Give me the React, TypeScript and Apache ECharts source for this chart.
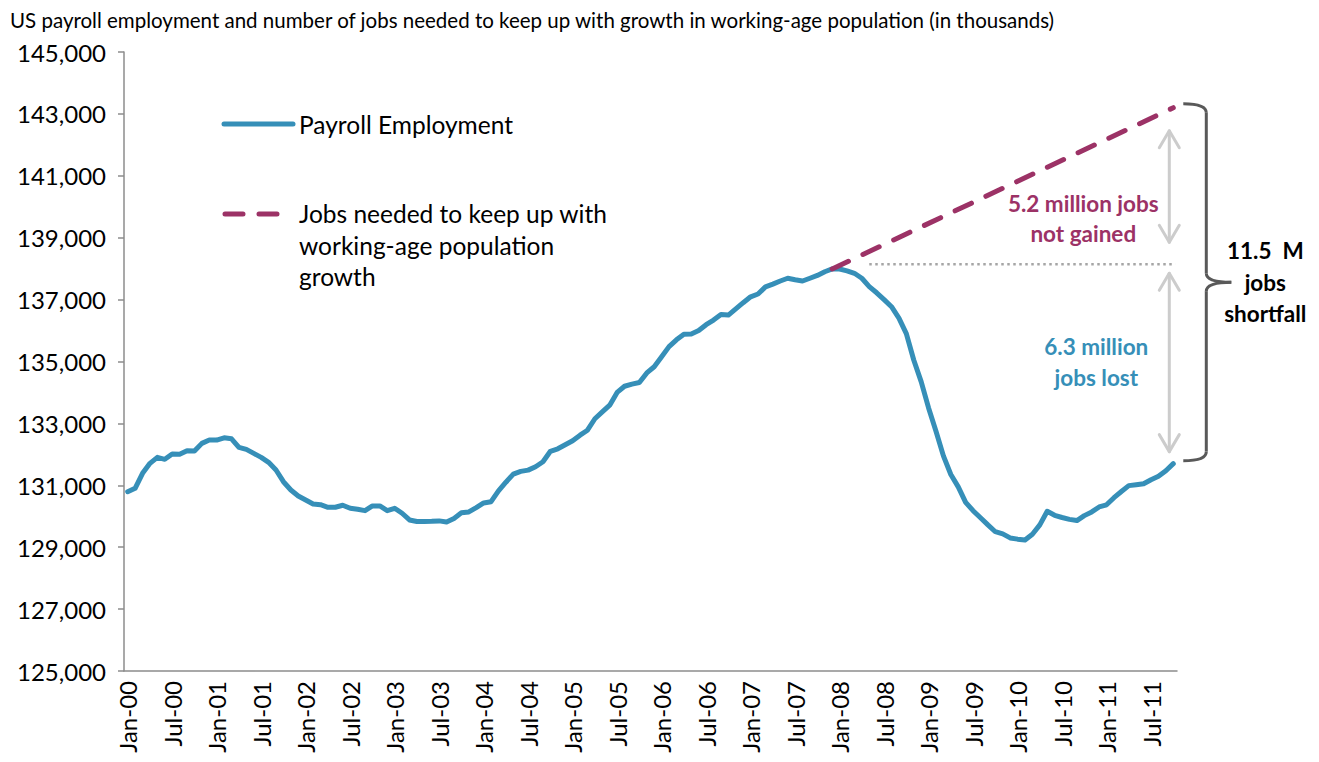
import React, { useEffect, useRef } from 'react';
import * as echarts from 'echarts';

const MONTHS = ['Jan', 'Feb', 'Mar', 'Apr', 'May', 'Jun', 'Jul', 'Aug', 'Sep', 'Oct', 'Nov', 'Dec'];
const YEARS = ['00', '01', '02', '03', '04', '05', '06', '07', '08', '09', '10', '11'];

// Payroll employment, thousands, by year (Jan..Dec)
const payroll2000 = [130794, 130903, 131387, 131710, 131903, 131839, 132010, 132000, 132116, 132106, 132355, 132461];
const payroll2001 = [132461, 132535, 132503, 132226, 132161, 132032, 131903, 131742, 131494, 131116, 130848, 130655];
const payroll2002 = [130526, 130397, 130374, 130290, 130290, 130355, 130258, 130226, 130181, 130332, 130332, 130181];
const payroll2003 = [130258, 130097, 129880, 129830, 129830, 129835, 129850, 129815, 129930, 130110, 130140, 130280];
const payroll2004 = [130430, 130470, 130820, 131100, 131360, 131450, 131490, 131600, 131760, 132100, 132180, 132310];
const payroll2005 = [132440, 132620, 132780, 133150, 133370, 133590, 134000, 134200, 134270, 134320, 134630, 134830];
const payroll2006 = [135150, 135480, 135700, 135880, 135890, 136000, 136190, 136340, 136520, 136500, 136700, 136900];
const payroll2007 = [137090, 137180, 137410, 137500, 137600, 137690, 137640, 137600, 137690, 137780, 137900, 137990];
const payroll2008 = [137990, 137930, 137850, 137690, 137420, 137220, 137000, 136770, 136400, 135900, 135050, 134350];
const payroll2009 = [133500, 132750, 131950, 131350, 130950, 130450, 130180, 129950, 129720, 129500, 129430, 129300];
const payroll2010 = [129260, 129230, 129420, 129720, 130160, 130030, 129960, 129900, 129860, 130020, 130140, 130300];
const payroll2011 = [130370, 130600, 130800, 130990, 131020, 131050, 131180, 131290, 131470, 131700];

// Jobs needed to keep up with working-age population growth
const jobsNeededMonths = ['Dec-07', 'Oct-11'];
const jobsNeededValues = [137990, 143200];

// Reference level (pre-recession peak) used for the dotted line
const peakLevel = 138140;
const peakLineFrom = 'May-08';

const yTicks = { min: 125000, max: 145000, interval: 2000 };

const payroll = [
  ...payroll2000, ...payroll2001, ...payroll2002, ...payroll2003, ...payroll2004, ...payroll2005,
  ...payroll2006, ...payroll2007, ...payroll2008, ...payroll2009, ...payroll2010, ...payroll2011,
];
const categories: string[] = [];
YEARS.forEach((y) => MONTHS.forEach((m) => categories.push(`${m}-${y}`)));
categories.length = payroll.length;

const BLUE = '#368fb8';
const MAGENTA = '#9c3266';
const FONT = 'Lato, "Open Sans", sans-serif';

export default function App() {
  const ref = useRef<HTMLDivElement>(null);
  useEffect(() => {
    if (!ref.current) return;
    const chart = echarts.init(ref.current, undefined, { renderer: 'svg' });
    chart.setOption({
      animation: false,
      backgroundColor: '#ffffff',
      textStyle: { fontFamily: FONT },
      title: {
        text: 'US payroll employment and number of jobs needed to keep up with growth in working-age population (in thousands)',
        left: 5,
        top: 4,
        textStyle: { fontFamily: FONT, fontSize: 20.5, fontWeight: 'normal', color: '#000' },
      },
      grid: { left: 124, right: 142, top: 52, bottom: 91, containLabel: false },
      xAxis: {
        type: 'category',
        data: categories,
        boundaryGap: true,
        axisLine: { lineStyle: { color: '#8c8c8c', width: 1.5 } },
        axisTick: { interval: 5, length: 6, lineStyle: { color: '#8c8c8c', width: 1.5 } },
        axisLabel: { interval: 5, rotate: 90, fontSize: 24, color: '#000', fontFamily: FONT, margin: 10 },
        splitLine: { show: false },
      },
      yAxis: {
        type: 'value',
        min: yTicks.min,
        max: yTicks.max,
        interval: yTicks.interval,
        axisLine: { show: true, lineStyle: { color: '#8c8c8c', width: 1.5 } },
        axisTick: { show: true, length: 6, lineStyle: { color: '#8c8c8c', width: 1.5 } },
        axisLabel: {
          fontSize: 24, color: '#000', fontFamily: FONT, margin: 18,
          formatter: (v: number) => v.toLocaleString('en-US'),
        },
        splitLine: { show: false },
      },
      series: [
        {
          name: 'Payroll Employment',
          type: 'line',
          data: payroll,
          symbol: 'none',
          lineStyle: { color: BLUE, width: 5, cap: 'round', join: 'round' },
          z: 3,
        },
        {
          name: 'Jobs needed to keep up with working-age population growth',
          type: 'line',
          data: jobsNeededMonths.map((m, i) => [m, jobsNeededValues[i]]),
          symbol: 'none',
          lineStyle: { color: MAGENTA, width: 5, type: [18, 16], cap: 'round' },
          z: 4,
        },
      ],
    });

    const P = (i: number, v: number) => chart.convertToPixel({ xAxisIndex: 0, yAxisIndex: 0 }, [i, v]) as number[];
    const last = payroll.length - 1;
    const xLast = P(last, payroll[last])[0];
    const yDashEnd = P(last, jobsNeededValues[jobsNeededValues.length - 1])[1];
    const yPayEnd = P(last, payroll[last])[1];
    const yPeak = P(last, peakLevel)[1];
    const xPeakFrom = P(categories.indexOf(peakLineFrom), peakLevel)[0];

    const yTop = yDashEnd - 4;
    const yBot = yPayEnd - 3;
    const yMid = (yTop + yBot) / 2;
    const bx0 = xLast + 10;
    const bx1 = xLast + 33;
    const bx2 = xLast + 58;
    const r = 9;
    const bracketStyle = { stroke: '#595959', lineWidth: 3, fill: 'none' };

    const arrowX = xLast - 4;
    const arrowStyle = { stroke: '#cccccc', lineWidth: 3, fill: 'none', lineCap: 'round', lineJoin: 'round' };
    const arrow = (y1: number, y2: number) => [
      { type: 'line', shape: { x1: arrowX, y1, x2: arrowX, y2 }, style: arrowStyle },
      { type: 'polyline', shape: { points: [[arrowX - 10, y1 + 17], [arrowX, y1], [arrowX + 10, y1 + 17]] }, style: arrowStyle },
      { type: 'polyline', shape: { points: [[arrowX - 10, y2 - 17], [arrowX, y2], [arrowX + 10, y2 - 17]] }, style: arrowStyle },
    ];

    const legendTextStyle = { fontFamily: FONT, fontSize: 24.5, fill: '#000', lineHeight: 31.5 };
    const annText = { fontFamily: FONT, fontWeight: 'bold', fontSize: 22.5, align: 'center', verticalAlign: 'top' };

    chart.setOption({
      graphic: [
        // legend
        { type: 'line', shape: { x1: 224, y1: 124, x2: 293, y2: 124 }, style: { stroke: BLUE, lineWidth: 5, lineCap: 'round' } },
        { type: 'text', x: 299, y: 124, style: { ...legendTextStyle, text: 'Payroll Employment', verticalAlign: 'middle' } },
        { type: 'line', shape: { x1: 225, y1: 214, x2: 290, y2: 214 }, style: { stroke: MAGENTA, lineWidth: 5, lineCap: 'round', lineDash: [18, 16] } },
        {
          type: 'text', x: 299, y: 198,
          style: { ...legendTextStyle, text: 'Jobs needed to keep up with\nworking-age population\ngrowth', verticalAlign: 'top' },
        },
        // dotted peak line
        {
          type: 'line',
          shape: { x1: xPeakFrom, y1: yPeak, x2: xLast + 2, y2: yPeak },
          style: { stroke: '#a6a6a6', lineWidth: 2.5, lineDash: [2.5, 3.5] },
        },
        // arrows
        ...arrow(yTop + 27, yPeak - 22),
        ...arrow(yPeak + 9, yBot - 9),
        // bracket
        { type: 'bezierCurve', shape: { x1: bx0, y1: yTop, cpx1: bx1, cpy1: yTop, x2: bx1, y2: yTop + r }, style: bracketStyle },
        { type: 'line', shape: { x1: bx1, y1: yTop + r, x2: bx1, y2: yMid - r }, style: bracketStyle },
        { type: 'bezierCurve', shape: { x1: bx1, y1: yMid - r, cpx1: bx1, cpy1: yMid, x2: bx2, y2: yMid }, style: bracketStyle },
        { type: 'bezierCurve', shape: { x1: bx2, y1: yMid, cpx1: bx1, cpy1: yMid, x2: bx1, y2: yMid + r }, style: bracketStyle },
        { type: 'line', shape: { x1: bx1, y1: yMid + r, x2: bx1, y2: yBot - r }, style: bracketStyle },
        { type: 'bezierCurve', shape: { x1: bx1, y1: yBot - r, cpx1: bx1, cpy1: yBot, x2: bx0, y2: yBot }, style: bracketStyle },
        // annotation texts
        {
          type: 'text', x: xLast - 90, y: yTop + 85,
          style: { ...annText, text: '5.2 million jobs\nnot gained', lineHeight: 30, fill: MAGENTA },
        },
        {
          type: 'text', x: xLast - 77, y: yPeak + 67,
          style: { ...annText, text: '6.3 million\njobs lost', lineHeight: 31, fill: BLUE },
        },
        {
          type: 'text', x: xLast + 92, y: yMid - 47,
          style: { ...annText, text: '11.5  M\njobs\nshortfall', lineHeight: 31.5, fill: '#000' },
        },
      ],
    });

    return () => chart.dispose();
  }, []);
  return <div ref={ref} style={{ position: 'fixed', left: 0, top: 0, width: 1319, height: 762, background: '#fff' }} />;
}
